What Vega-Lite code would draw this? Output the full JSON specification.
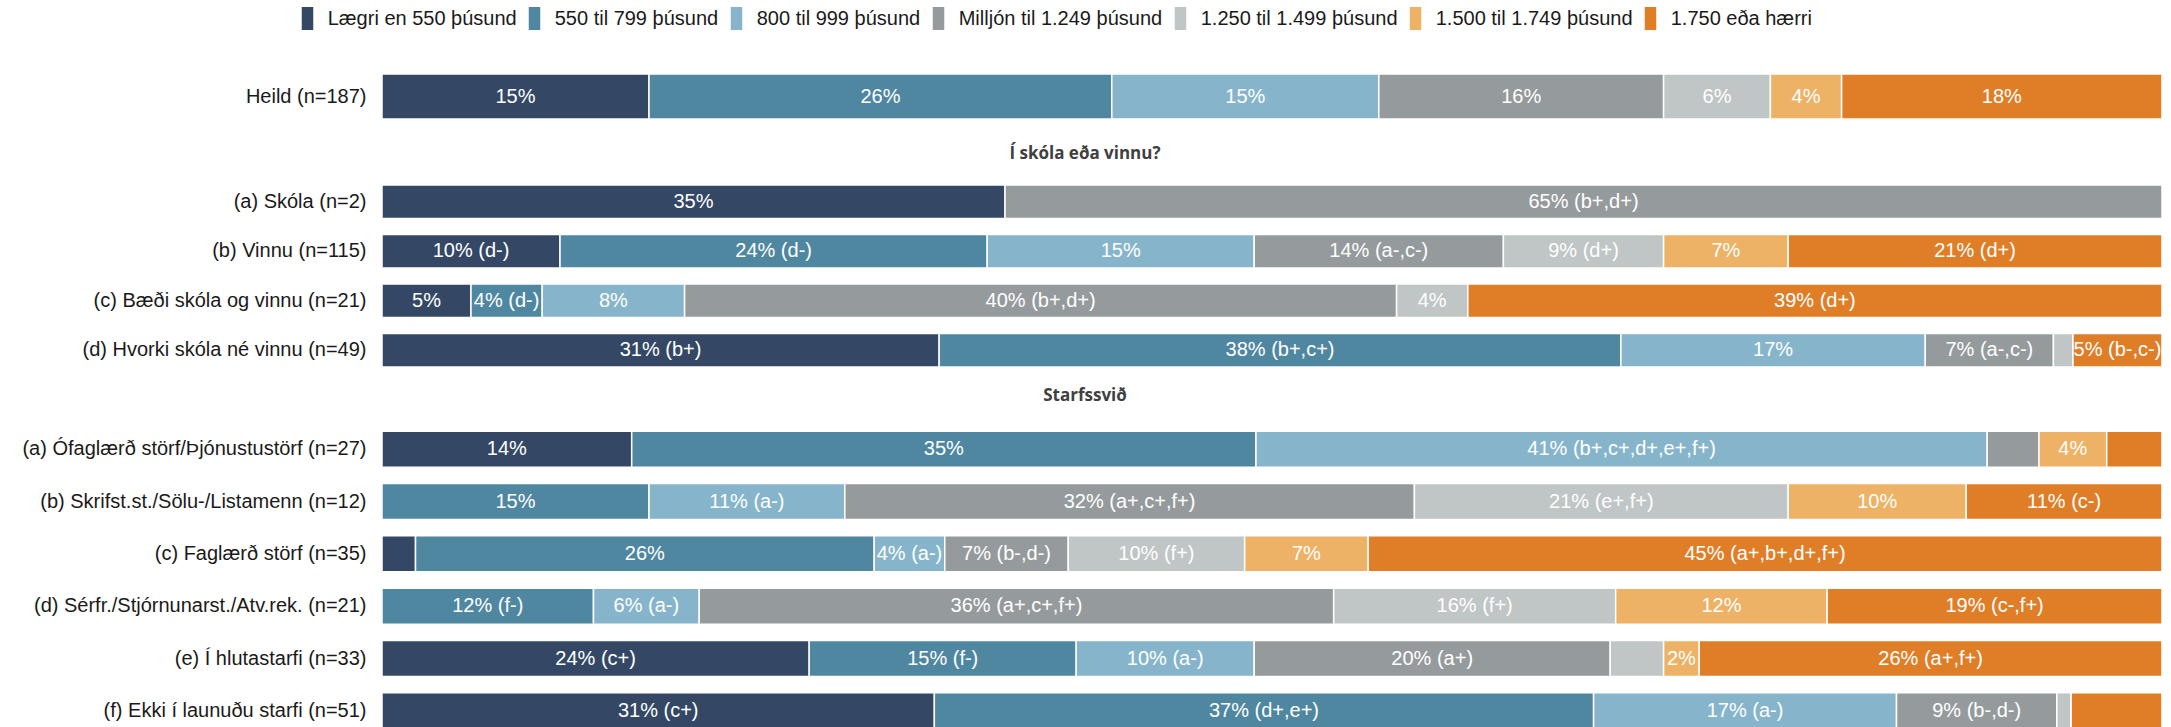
{
  "$schema": "https://vega.github.io/schema/vega-lite/v6.json",
  "background": "white",
  "padding": {"left": 21, "top": 7, "right": 10, "bottom": 0},
  "spacing": 12,
  "config": {
    "view": {"stroke": null},
    "font": "Liberation Sans",
    "axis": {"labelFont": "Liberation Sans", "labelFontSize": 20, "labelColor": "#1a1a1a", "domain": false, "ticks": false, "labelPadding": 16, "grid": false, "labelLimit": 0},
    "title": {"font": "Open Sans", "fontWeight": "bold", "fontSize": 17, "color": "#404040", "anchor": "middle", "frame": "group", "baseline": "alphabetic", "dx": -187}
  },
  "resolve": {"scale": {"color": "shared"}, "legend": {"color": "shared"}},
  "datasets": {
    "heild": [
      {"g": "Heild (n=187)", "c": "Lægri en 550 þúsund", "v": 15, "t": "15%"},
      {"g": "Heild (n=187)", "c": "550 til 799 þúsund", "v": 26, "t": "26%"},
      {"g": "Heild (n=187)", "c": "800 til 999 þúsund", "v": 15, "t": "15%"},
      {"g": "Heild (n=187)", "c": "Milljón til 1.249 þúsund", "v": 16, "t": "16%"},
      {"g": "Heild (n=187)", "c": "1.250 til 1.499 þúsund", "v": 6, "t": "6%"},
      {"g": "Heild (n=187)", "c": "1.500 til 1.749 þúsund", "v": 4, "t": "4%"},
      {"g": "Heild (n=187)", "c": "1.750 eða hærri", "v": 18, "t": "18%"}
    ],
    "skoli": [
      {"g": "(a) Skóla (n=2)", "c": "Lægri en 550 þúsund", "v": 35, "t": "35%"},
      {"g": "(a) Skóla (n=2)", "c": "Milljón til 1.249 þúsund", "v": 65, "t": "65% (b+,d+)"},
      {"g": "(b) Vinnu (n=115)", "c": "Lægri en 550 þúsund", "v": 10, "t": "10% (d-)"},
      {"g": "(b) Vinnu (n=115)", "c": "550 til 799 þúsund", "v": 24, "t": "24% (d-)"},
      {"g": "(b) Vinnu (n=115)", "c": "800 til 999 þúsund", "v": 15, "t": "15%"},
      {"g": "(b) Vinnu (n=115)", "c": "Milljón til 1.249 þúsund", "v": 14, "t": "14% (a-,c-)"},
      {"g": "(b) Vinnu (n=115)", "c": "1.250 til 1.499 þúsund", "v": 9, "t": "9% (d+)"},
      {"g": "(b) Vinnu (n=115)", "c": "1.500 til 1.749 þúsund", "v": 7, "t": "7%"},
      {"g": "(b) Vinnu (n=115)", "c": "1.750 eða hærri", "v": 21, "t": "21% (d+)"},
      {"g": "(c) Bæði skóla og vinnu (n=21)", "c": "Lægri en 550 þúsund", "v": 5, "t": "5%"},
      {"g": "(c) Bæði skóla og vinnu (n=21)", "c": "550 til 799 þúsund", "v": 4, "t": "4% (d-)"},
      {"g": "(c) Bæði skóla og vinnu (n=21)", "c": "800 til 999 þúsund", "v": 8, "t": "8%"},
      {"g": "(c) Bæði skóla og vinnu (n=21)", "c": "Milljón til 1.249 þúsund", "v": 40, "t": "40% (b+,d+)"},
      {"g": "(c) Bæði skóla og vinnu (n=21)", "c": "1.250 til 1.499 þúsund", "v": 4, "t": "4%"},
      {"g": "(c) Bæði skóla og vinnu (n=21)", "c": "1.750 eða hærri", "v": 39, "t": "39% (d+)"},
      {"g": "(d) Hvorki skóla né vinnu (n=49)", "c": "Lægri en 550 þúsund", "v": 31.3, "t": "31% (b+)"},
      {"g": "(d) Hvorki skóla né vinnu (n=49)", "c": "550 til 799 þúsund", "v": 38.3, "t": "38% (b+,c+)"},
      {"g": "(d) Hvorki skóla né vinnu (n=49)", "c": "800 til 999 þúsund", "v": 17.1, "t": "17%"},
      {"g": "(d) Hvorki skóla né vinnu (n=49)", "c": "Milljón til 1.249 þúsund", "v": 7.2, "t": "7% (a-,c-)"},
      {"g": "(d) Hvorki skóla né vinnu (n=49)", "c": "1.250 til 1.499 þúsund", "v": 1.1, "t": ""},
      {"g": "(d) Hvorki skóla né vinnu (n=49)", "c": "1.750 eða hærri", "v": 5.0, "t": "5% (b-,c-)"}
    ],
    "starf": [
      {"g": "(a) Ófaglærð störf/Þjónustustörf (n=27)", "c": "Lægri en 550 þúsund", "v": 14, "t": "14%"},
      {"g": "(a) Ófaglærð störf/Þjónustustörf (n=27)", "c": "550 til 799 þúsund", "v": 35, "t": "35%"},
      {"g": "(a) Ófaglærð störf/Þjónustustörf (n=27)", "c": "800 til 999 þúsund", "v": 41, "t": "41% (b+,c+,d+,e+,f+)"},
      {"g": "(a) Ófaglærð störf/Þjónustustörf (n=27)", "c": "Milljón til 1.249 þúsund", "v": 2.9, "t": ""},
      {"g": "(a) Ófaglærð störf/Þjónustustörf (n=27)", "c": "1.500 til 1.749 þúsund", "v": 3.8, "t": "4%"},
      {"g": "(a) Ófaglærð störf/Þjónustustörf (n=27)", "c": "1.750 eða hærri", "v": 3.1, "t": ""},
      {"g": "(b) Skrifst.st./Sölu-/Listamenn (n=12)", "c": "550 til 799 þúsund", "v": 15, "t": "15%"},
      {"g": "(b) Skrifst.st./Sölu-/Listamenn (n=12)", "c": "800 til 999 þúsund", "v": 11, "t": "11% (a-)"},
      {"g": "(b) Skrifst.st./Sölu-/Listamenn (n=12)", "c": "Milljón til 1.249 þúsund", "v": 32, "t": "32% (a+,c+,f+)"},
      {"g": "(b) Skrifst.st./Sölu-/Listamenn (n=12)", "c": "1.250 til 1.499 þúsund", "v": 21, "t": "21% (e+,f+)"},
      {"g": "(b) Skrifst.st./Sölu-/Listamenn (n=12)", "c": "1.500 til 1.749 þúsund", "v": 10, "t": "10%"},
      {"g": "(b) Skrifst.st./Sölu-/Listamenn (n=12)", "c": "1.750 eða hærri", "v": 11, "t": "11% (c-)"},
      {"g": "(c) Faglærð störf (n=35)", "c": "Lægri en 550 þúsund", "v": 1.9, "t": ""},
      {"g": "(c) Faglærð störf (n=35)", "c": "550 til 799 þúsund", "v": 26, "t": "26%"},
      {"g": "(c) Faglærð störf (n=35)", "c": "800 til 999 þúsund", "v": 4, "t": "4% (a-)"},
      {"g": "(c) Faglærð störf (n=35)", "c": "Milljón til 1.249 þúsund", "v": 7, "t": "7% (b-,d-)"},
      {"g": "(c) Faglærð störf (n=35)", "c": "1.250 til 1.499 þúsund", "v": 10, "t": "10% (f+)"},
      {"g": "(c) Faglærð störf (n=35)", "c": "1.500 til 1.749 þúsund", "v": 7, "t": "7%"},
      {"g": "(c) Faglærð störf (n=35)", "c": "1.750 eða hærri", "v": 45, "t": "45% (a+,b+,d+,f+)"},
      {"g": "(d) Sérfr./Stjórnunarst./Atv.rek. (n=21)", "c": "550 til 799 þúsund", "v": 12, "t": "12% (f-)"},
      {"g": "(d) Sérfr./Stjórnunarst./Atv.rek. (n=21)", "c": "800 til 999 þúsund", "v": 6, "t": "6% (a-)"},
      {"g": "(d) Sérfr./Stjórnunarst./Atv.rek. (n=21)", "c": "Milljón til 1.249 þúsund", "v": 36, "t": "36% (a+,c+,f+)"},
      {"g": "(d) Sérfr./Stjórnunarst./Atv.rek. (n=21)", "c": "1.250 til 1.499 þúsund", "v": 16, "t": "16% (f+)"},
      {"g": "(d) Sérfr./Stjórnunarst./Atv.rek. (n=21)", "c": "1.500 til 1.749 þúsund", "v": 12, "t": "12%"},
      {"g": "(d) Sérfr./Stjórnunarst./Atv.rek. (n=21)", "c": "1.750 eða hærri", "v": 19, "t": "19% (c-,f+)"},
      {"g": "(e) Í hlutastarfi (n=33)", "c": "Lægri en 550 þúsund", "v": 24, "t": "24% (c+)"},
      {"g": "(e) Í hlutastarfi (n=33)", "c": "550 til 799 þúsund", "v": 15, "t": "15% (f-)"},
      {"g": "(e) Í hlutastarfi (n=33)", "c": "800 til 999 þúsund", "v": 10, "t": "10% (a-)"},
      {"g": "(e) Í hlutastarfi (n=33)", "c": "Milljón til 1.249 þúsund", "v": 20, "t": "20% (a+)"},
      {"g": "(e) Í hlutastarfi (n=33)", "c": "1.250 til 1.499 þúsund", "v": 3, "t": ""},
      {"g": "(e) Í hlutastarfi (n=33)", "c": "1.500 til 1.749 þúsund", "v": 2, "t": "2%"},
      {"g": "(e) Í hlutastarfi (n=33)", "c": "1.750 eða hærri", "v": 26, "t": "26% (a+,f+)"},
      {"g": "(f) Ekki í launuðu starfi (n=51)", "c": "Lægri en 550 þúsund", "v": 31, "t": "31% (c+)"},
      {"g": "(f) Ekki í launuðu starfi (n=51)", "c": "550 til 799 þúsund", "v": 37, "t": "37% (d+,e+)"},
      {"g": "(f) Ekki í launuðu starfi (n=51)", "c": "800 til 999 þúsund", "v": 17, "t": "17% (a-)"},
      {"g": "(f) Ekki í launuðu starfi (n=51)", "c": "Milljón til 1.249 þúsund", "v": 9, "t": "9% (b-,d-)"},
      {"g": "(f) Ekki í launuðu starfi (n=51)", "c": "1.250 til 1.499 þúsund", "v": 0.8, "t": ""},
      {"g": "(f) Ekki í launuðu starfi (n=51)", "c": "1.750 eða hærri", "v": 5.1, "t": ""}
    ]
  },
  "vconcat": [
    {
      "width": 1780,
      "height": 58.5,
      "data": {"name": "heild"},
      "transform": [
        {"stack": "v", "groupby": ["g"], "offset": "normalize", "as": ["x0", "x1"]},
        {"calculate": "(datum.x0 + datum.x1) / 2", "as": "xm"}
      ],
      "encoding": {
        "y": {"field": "g", "type": "nominal", "sort": null, "title": null, "scale": {"paddingInner": 0, "paddingOuter": 0.15, "align": 0}}
      },
      "layer": [
        {
          "mark": {"type": "bar", "stroke": "white", "strokeWidth": 1.5},
          "encoding": {
            "x": {"field": "x0", "type": "quantitative", "scale": {"domain": [0, 1], "nice": false, "zero": false}, "axis": null},
            "x2": {"field": "x1"},
            "color": {
              "field": "c", "type": "nominal",
              "scale": {
                "domain": ["Lægri en 550 þúsund", "550 til 799 þúsund", "800 til 999 þúsund", "Milljón til 1.249 þúsund", "1.250 til 1.499 þúsund", "1.500 til 1.749 þúsund", "1.750 eða hærri"],
                "range": ["#344865", "#4f87a1", "#86b5cb", "#959b9c", "#bfc6c5", "#edb266", "#e07e28"]
              },
              "legend": {"orient": "none", "legendX": -86, "legendY": -67, "direction": "horizontal", "title": null, "symbolType": "M-0.5,-1H0.5V1H-0.5Z", "symbolSize": 529, "symbolStrokeWidth": 0, "symbolOpacity": 1, "labelFontSize": 20, "labelFont": "Liberation Sans", "labelColor": "#1a1a1a", "labelOffset": 8.7, "columnPadding": 6, "padding": 0, "labelLimit": 0}
            }
          }
        },
        {
          "mark": {"type": "text", "color": "white", "fontSize": 20, "font": "Liberation Sans"},
          "encoding": {
            "x": {"field": "xm", "type": "quantitative"},
            "text": {"field": "t"}
          }
        }
      ]
    },
    {
      "width": 1780,
      "height": 198,
      "title": {"text": "Í skóla eða vinnu?", "offset": 14},
      "data": {"name": "skoli"},
      "transform": [
        {"stack": "v", "groupby": ["g"], "offset": "normalize", "as": ["x0", "x1"]},
        {"calculate": "(datum.x0 + datum.x1) / 2", "as": "xm"}
      ],
      "encoding": {
        "y": {"field": "g", "type": "nominal", "sort": null, "title": null, "scale": {"paddingInner": 0.32, "paddingOuter": 0.16}}
      },
      "layer": [
        {
          "mark": {"type": "bar", "stroke": "white", "strokeWidth": 1.5},
          "encoding": {
            "x": {"field": "x0", "type": "quantitative", "scale": {"domain": [0, 1], "nice": false, "zero": false}, "axis": null},
            "x2": {"field": "x1"},
            "color": {
              "field": "c", "type": "nominal",
              "scale": {
                "domain": ["Lægri en 550 þúsund", "550 til 799 þúsund", "800 til 999 þúsund", "Milljón til 1.249 þúsund", "1.250 til 1.499 þúsund", "1.500 til 1.749 þúsund", "1.750 eða hærri"],
                "range": ["#344865", "#4f87a1", "#86b5cb", "#959b9c", "#bfc6c5", "#edb266", "#e07e28"]
              },
              "legend": {"orient": "none", "legendX": -86, "legendY": -67, "direction": "horizontal", "title": null, "symbolType": "M-0.5,-1H0.5V1H-0.5Z", "symbolSize": 529, "symbolStrokeWidth": 0, "symbolOpacity": 1, "labelFontSize": 20, "labelFont": "Liberation Sans", "labelColor": "#1a1a1a", "labelOffset": 8.7, "columnPadding": 6, "padding": 0, "labelLimit": 0}
            }
          }
        },
        {
          "mark": {"type": "text", "color": "white", "fontSize": 20, "font": "Liberation Sans"},
          "encoding": {
            "x": {"field": "xm", "type": "quantitative"},
            "text": {"field": "t"}
          }
        }
      ]
    },
    {
      "width": 1780,
      "height": 314,
      "title": {"text": "Starfssvið", "offset": 18},
      "data": {"name": "starf"},
      "transform": [
        {"stack": "v", "groupby": ["g"], "offset": "normalize", "as": ["x0", "x1"]},
        {"calculate": "(datum.x0 + datum.x1) / 2", "as": "xm"}
      ],
      "encoding": {
        "y": {"field": "g", "type": "nominal", "sort": null, "title": null, "scale": {"paddingInner": 0.312, "paddingOuter": 0.156}}
      },
      "layer": [
        {
          "mark": {"type": "bar", "stroke": "white", "strokeWidth": 1.5},
          "encoding": {
            "x": {"field": "x0", "type": "quantitative", "scale": {"domain": [0, 1], "nice": false, "zero": false}, "axis": null},
            "x2": {"field": "x1"},
            "color": {
              "field": "c", "type": "nominal",
              "scale": {
                "domain": ["Lægri en 550 þúsund", "550 til 799 þúsund", "800 til 999 þúsund", "Milljón til 1.249 þúsund", "1.250 til 1.499 þúsund", "1.500 til 1.749 þúsund", "1.750 eða hærri"],
                "range": ["#344865", "#4f87a1", "#86b5cb", "#959b9c", "#bfc6c5", "#edb266", "#e07e28"]
              },
              "legend": {"orient": "none", "legendX": -86, "legendY": -67, "direction": "horizontal", "title": null, "symbolType": "M-0.5,-1H0.5V1H-0.5Z", "symbolSize": 529, "symbolStrokeWidth": 0, "symbolOpacity": 1, "labelFontSize": 20, "labelFont": "Liberation Sans", "labelColor": "#1a1a1a", "labelOffset": 8.7, "columnPadding": 6, "padding": 0, "labelLimit": 0}
            }
          }
        },
        {
          "mark": {"type": "text", "color": "white", "fontSize": 20, "font": "Liberation Sans"},
          "encoding": {
            "x": {"field": "xm", "type": "quantitative"},
            "text": {"field": "t"}
          }
        }
      ]
    }
  ]
}
